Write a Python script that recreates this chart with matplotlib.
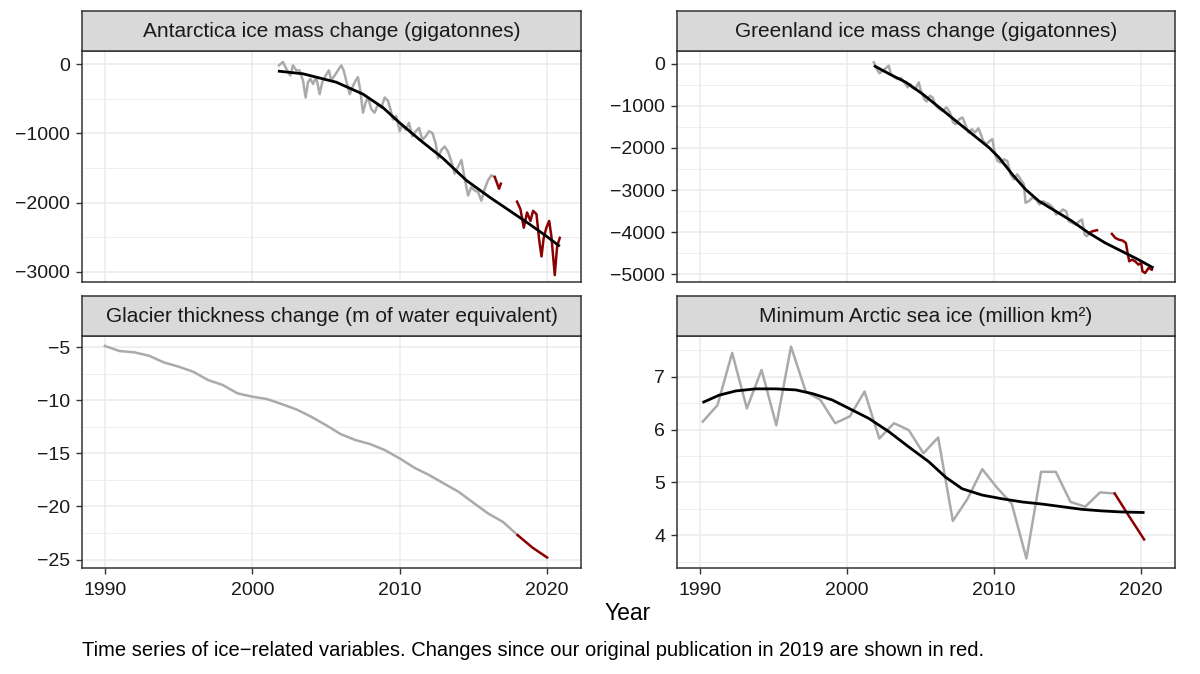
import numpy as np
import matplotlib
matplotlib.use("Agg")
import matplotlib.pyplot as plt

plt.rcParams["font.family"] = ["Liberation Sans", "DejaVu Sans"]

W, H = 1200, 674

GREY = "#AAAAAA"
RED = "#8B0000"
GRID = "#EBEBEB"
FRAME = "#333333"
STRIP = "#D9D9D9"

# ---- Antarctica ice mass (gigatonnes), monthly-ish ----
ant_year = [2001.81, 2002.08, 2002.31, 2002.58, 2002.76, 2002.99, 2003.21, 2003.44,
            2003.62, 2003.78, 2003.94, 2004.12, 2004.34, 2004.57, 2004.75, 2004.98,
            2005.20, 2005.36, 2005.59, 2005.81, 2006.04, 2006.20, 2006.43, 2006.61,
            2006.79, 2007.01, 2007.17, 2007.33, 2007.51, 2007.69, 2007.85, 2008.08,
            2008.30, 2008.53, 2008.76, 2008.98, 2009.21, 2009.37, 2009.55, 2009.77,
            2010.00, 2010.18, 2010.41, 2010.63, 2010.86, 2011.09, 2011.31, 2011.54,
            2011.76, 2011.99, 2012.22, 2012.44, 2012.60, 2012.83, 2013.05, 2013.28,
            2013.51, 2013.73, 2013.96, 2014.19, 2014.41, 2014.64, 2014.86, 2015.09,
            2015.32, 2015.54, 2015.77, 2015.99, 2016.22, 2016.45]
ant_mass = [-15, 34, -64, -162, -15, -88, -88, -235,
            -480, -259, -210, -284, -186, -431, -259, -162,
            -88, -235, -162, -88, -15, -88, -284, -431,
            -333, -235, -186, -382, -700, -553, -480, -651,
            -700, -578, -627, -480, -529, -651, -798, -749,
            -969, -871, -945, -847, -1043, -969, -920, -1092,
            -1043, -969, -994, -1141, -1361, -1238, -1189, -1263,
            -1410, -1581, -1483, -1385, -1655, -1899, -1777, -1826,
            -1850, -1973, -1801, -1679, -1606, -1630]
# updates since 2019 (two pieces, gap between satellite missions)
ant_new_year_a = [2016.45, 2016.74, 2016.86]
ant_new_mass_a = [-1630, -1801, -1728]
ant_new_year_b = [2017.96, 2018.19, 2018.42, 2018.64, 2018.87, 2019.05, 2019.28, 2019.46,
                  2019.62, 2019.77, 2019.95, 2020.14, 2020.29, 2020.52, 2020.68, 2020.86]
ant_new_mass_b = [-1987, -2095, -2364, -2144, -2266, -2120, -2168, -2536,
                  -2780, -2511, -2364, -2266, -2487, -3050, -2634, -2511]
ant_fit_year = [2001.74, 2003.44, 2005.70, 2007.51, 2008.87, 2010.00, 2011.36,
                2012.94, 2014.52, 2016.11, 2017.47, 2018.82, 2019.95, 2020.86]
ant_fit_mass = [-98, -137, -259, -431, -627, -847, -1092,
                -1361, -1679, -1924, -2120, -2315, -2487, -2634]

# ---- Greenland ice mass (gigatonnes) ----
grl_year = [2001.83, 2002.03, 2002.21, 2002.44, 2002.66, 2002.84, 2003.00, 2003.23,
            2003.45, 2003.68, 2003.91, 2004.13, 2004.29, 2004.47, 2004.65, 2004.88,
            2005.03, 2005.26, 2005.42, 2005.64, 2005.82, 2006.05, 2006.28, 2006.50,
            2006.77, 2007.00, 2007.22, 2007.40, 2007.63, 2007.86, 2008.08, 2008.26,
            2008.49, 2008.71, 2008.94, 2009.10, 2009.26, 2009.48, 2009.71, 2009.89,
            2010.02, 2010.23, 2010.45, 2010.68, 2010.90, 2011.13, 2011.35, 2011.58,
            2011.81, 2012.03, 2012.14, 2012.37, 2012.60, 2012.87, 2013.09, 2013.32,
            2013.54, 2013.77, 2014.00, 2014.22, 2014.45, 2014.67, 2014.90, 2015.08,
            2015.30, 2015.58, 2015.80, 2015.98, 2016.16, 2016.32, 2016.48]
grl_mass = [40, -119, -223, -159, -96, -40, -255, -318,
            -358, -334, -438, -557, -478, -573, -597, -438,
            -637, -836, -892, -756, -796, -995, -1075, -1115,
            -1035, -1154, -1393, -1433, -1314, -1274, -1473, -1632,
            -1553, -1632, -1529, -1672, -1831, -1911, -1831, -1791,
            -2070, -2309, -2349, -2269, -2309, -2627, -2747, -2627,
            -2747, -2866, -3304, -3264, -3185, -3225, -3344, -3264,
            -3304, -3344, -3424, -3583, -3543, -3463, -3503, -3742,
            -3782, -3822, -3742, -3702, -4061, -4100, -4021]
grl_new_year_a = [2016.48, 2016.70, 2017.00]
grl_new_mass_a = [-4021, -3981, -3957]
grl_new_year_b = [2018.01, 2018.24, 2018.47, 2018.74, 2018.96, 2019.10, 2019.19, 2019.37,
                  2019.59, 2019.82, 2020.00, 2020.09, 2020.27, 2020.50, 2020.72]
grl_new_mass_b = [-4045, -4140, -4180, -4204, -4260, -4538, -4698, -4658,
                  -4698, -4777, -4737, -4937, -4976, -4857, -4897]
grl_fit_year = [2001.83, 2002.89, 2004.02, 2005.15, 2006.28, 2007.40, 2008.53, 2009.66,
                2010.34, 2011.24, 2012.14, 2013.05, 2014.18, 2015.30, 2016.43, 2017.56,
                2018.69, 2019.82, 2020.84]
grl_fit_mass = [-40, -239, -438, -717, -1035, -1354, -1672, -1991,
                -2229, -2627, -2986, -3264, -3503, -3742, -4021, -4260,
                -4459, -4658, -4857]

# ---- Glacier thickness change (m w.e.), yearly ----
gla_year = [1990, 1991, 1992, 1993, 1994, 1995, 1996, 1997, 1998, 1999, 2000,
            2001, 2002, 2003, 2004, 2005, 2006, 2007, 2008, 2009, 2010,
            2011, 2012, 2013, 2014, 2015, 2016, 2017, 2018]
gla_thick = [-4.87, -5.35, -5.47, -5.79, -6.42, -6.82, -7.30, -8.08, -8.55, -9.34, -9.65,
             -9.87, -10.35, -10.85, -11.54, -12.33, -13.18, -13.74, -14.12, -14.69, -15.47,
             -16.35, -17.04, -17.83, -18.62, -19.65, -20.66, -21.45, -22.70]
gla_new_year = [2018, 2019, 2020]
gla_new_thick = [-22.70, -23.87, -24.81]

# ---- Minimum Arctic sea ice (million km2), yearly ----
sea_year = [1990.2, 1991.2, 1992.2, 1993.2, 1994.2, 1995.2, 1996.2, 1997.2, 1998.2,
            1999.2, 2000.2, 2001.2, 2002.2, 2003.2, 2004.2, 2005.2, 2006.2, 2007.2,
            2008.2, 2009.2, 2010.2, 2011.2, 2012.2, 2013.2, 2014.2, 2015.2, 2016.2,
            2017.2, 2018.2]
sea_ice = [6.15, 6.46, 7.45, 6.40, 7.13, 6.08, 7.57, 6.72, 6.56,
           6.12, 6.25, 6.72, 5.83, 6.12, 5.99, 5.55, 5.85, 4.27,
           4.69, 5.25, 4.90, 4.60, 3.56, 5.20, 5.20, 4.63, 4.54,
           4.81, 4.79]
sea_new_year = [2018.2, 2019.2, 2020.2]
sea_new_ice = [4.79, 4.35, 3.92]
sea_fit_year = [1990.18, 1991.31, 1992.44, 1993.80, 1995.16, 1996.52, 1997.65, 1999.00,
                2000.14, 2001.49, 2002.85, 2004.21, 2005.57, 2006.70, 2007.83, 2009.19,
                2010.54, 2011.90, 2013.26, 2014.62, 2015.97, 2017.33, 2018.69, 2020.23]
sea_fit_ice = [6.51, 6.65, 6.73, 6.77, 6.77, 6.75, 6.68, 6.56,
               6.40, 6.21, 5.96, 5.67, 5.39, 5.10, 4.88, 4.76,
               4.69, 4.63, 4.59, 4.54, 4.49, 4.46, 4.44, 4.43]

TITLES = [
    "Antarctica ice mass change (gigatonnes)",
    "Greenland ice mass change (gigatonnes)",
    "Glacier thickness change (m of water equivalent)",
    "Minimum Arctic sea ice (million km\u00b2)",
]

X_TICKS = [1990, 2000, 2010, 2020]
X_LIM = (1988.45, 2022.3)


def px_axes(fig, x0, y0, x1, y1):
    # pixel box (top-left origin) -> figure axes
    return fig.add_axes([x0 / W, 1 - y1 / H, (x1 - x0) / W, (y1 - y0) / H])


def style_panel(ax, yticks, yminor, ylim, show_x):
    ax.set_xlim(*X_LIM)
    ax.set_ylim(*ylim)
    ax.set_xticks(X_TICKS)
    ax.set_yticks(yticks)
    ax.set_yticks(yminor, minor=True)
    ax.grid(True, which="major", color=GRID, linewidth=1.15, zorder=0)
    ax.grid(True, which="minor", axis="y", color=GRID, linewidth=0.55, zorder=0)
    ax.set_axisbelow(True)
    for s in ax.spines.values():
        s.set_color(FRAME)
        s.set_linewidth(1.1)
    ax.tick_params(axis="both", which="major", length=4, width=1.0, color=FRAME,
                   labelsize=14, labelcolor="#1A1A1A")
    ax.tick_params(axis="y", which="major", pad=4.5)
    ax.tick_params(axis="x", which="major", pad=6)
    ax.tick_params(axis="both", which="minor", length=0)
    if not show_x:
        ax.tick_params(axis="x", which="both", length=0, labelbottom=False)


def add_strip(fig, box, title):
    sax = px_axes(fig, *box)
    sax.set_facecolor(STRIP)
    sax.set_xticks([])
    sax.set_yticks([])
    for s in sax.spines.values():
        s.set_color(FRAME)
        s.set_linewidth(1.1)
    sax.text(0.5, 0.48, title, ha="center", va="center", fontsize=15,
             color="#1A1A1A", transform=sax.transAxes)


def draw_series(ax, old, new_parts, fit=None):
    ax.plot(old[0], old[1], color=GREY, linewidth=1.8, zorder=2)
    for xs, ys in new_parts:
        ax.plot(xs, ys, color=RED, linewidth=1.8, zorder=3)
    if fit is not None:
        ax.plot(fit[0], fit[1], color="black", linewidth=2.0, zorder=4,
                solid_capstyle="butt")


def main():
    fig = plt.figure(figsize=(W / 100, H / 100), dpi=100)

    boxes = {
        "tl": (82, 50.5, 581, 282),
        "tr": (677, 50.5, 1175, 282),
        "bl": (82, 336, 581, 568),
        "br": (677, 336, 1175, 568),
    }
    strips = {
        "tl": (82, 11, 581, 50.5),
        "tr": (677, 11, 1175, 50.5),
        "bl": (82, 296, 581, 336),
        "br": (677, 296, 1175, 336),
    }

    # Antarctica
    ax = px_axes(fig, *boxes["tl"])
    draw_series(ax, (ant_year, ant_mass),
                [(ant_new_year_a, ant_new_mass_a), (ant_new_year_b, ant_new_mass_b)],
                (ant_fit_year, ant_fit_mass))
    style_panel(ax, [0, -1000, -2000, -3000], [-500, -1500, -2500],
                (-3150, 200), show_x=False)
    add_strip(fig, strips["tl"], TITLES[0])

    # Greenland
    ax = px_axes(fig, *boxes["tr"])
    draw_series(ax, (grl_year, grl_mass),
                [(grl_new_year_a, grl_new_mass_a), (grl_new_year_b, grl_new_mass_b)],
                (grl_fit_year, grl_fit_mass))
    style_panel(ax, [0, -1000, -2000, -3000, -4000, -5000],
                [-500, -1500, -2500, -3500, -4500], (-5190, 321), show_x=False)
    add_strip(fig, strips["tr"], TITLES[1])

    # Glaciers
    ax = px_axes(fig, *boxes["bl"])
    draw_series(ax, (gla_year, gla_thick), [(gla_new_year, gla_new_thick)])
    style_panel(ax, [-5, -10, -15, -20, -25], [-7.5, -12.5, -17.5, -22.5],
                (-25.8, -3.93), show_x=True)
    add_strip(fig, strips["bl"], TITLES[2])

    # Sea ice
    ax = px_axes(fig, *boxes["br"])
    draw_series(ax, (sea_year, sea_ice), [(sea_new_year, sea_new_ice)],
                (sea_fit_year, sea_fit_ice))
    style_panel(ax, [4, 5, 6, 7], [3.5, 4.5, 5.5, 6.5, 7.5],
                (3.38, 7.77), show_x=True)
    add_strip(fig, strips["br"], TITLES[3])

    fig.text(628 / W, 1 - 614 / H, "Year", ha="center", va="center",
             fontsize=16.5, color="black")
    fig.text(82 / W, 1 - 650 / H,
             "Time series of ice\u2212related variables. Changes since our original "
             "publication in 2019 are shown in red.",
             ha="left", va="center", fontsize=14.5, color="black")

    fig.savefig("out.png", dpi=100, facecolor="white")
    plt.close(fig)


if __name__ == "__main__":
    main()
